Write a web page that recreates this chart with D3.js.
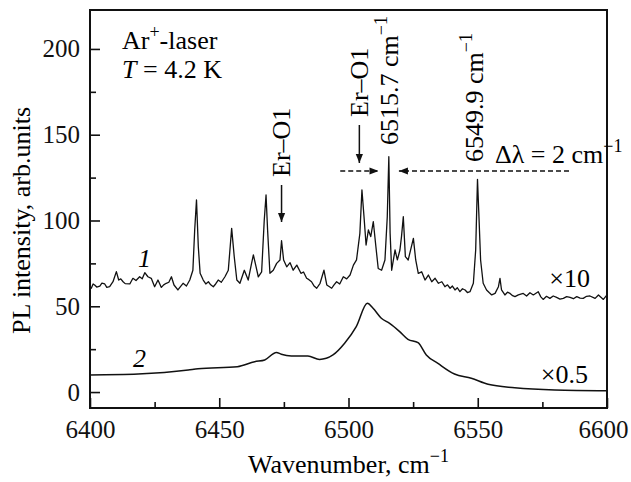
<!DOCTYPE html>
<html>
<head>
<meta charset="utf-8">
<script src="https://cdn.jsdelivr.net/npm/d3@7"></script>
<style>
  body { margin: 0; background: #fff; }
</style>
</head>
<body>
<div id="chart"></div>
<script>

// curve 1: PL spectrum x10 (wavenumber, intensity)
var wn1 = [6400.0,6400.5,6401.2,6401.8,6402.6,6403.8,6404.6,6405.7,6406.5,6407.6,6408.9,6410.2,6411.1,6411.9,6412.8,6413.6,6415.4,6416.6,6417.8,6419.2,6420.2,6421.2,6422.4,6423.7,
  6425.0,6426.3,6427.6,6428.5,6429.5,6430.5,6431.5,6432.5,6434.0,6435.0,6436.0,6437.3,6438.6,6439.8,6440.5,6441.2,6441.9,6442.6,6443.8,
  6444.8,6445.8,6446.7,6447.7,6448.6,6449.6,6450.8,6452.2,6453.5,6454.8,6455.8,6456.8,6458.0,6459.7,6461.2,6462.5,6463.2,6464.1,6465.1,6466.4,
  6467.4,6468.1,6468.7,6469.6,6470.9,6472.2,6473.5,6474.1,6474.9,6476.1,6477.4,6478.6,6480.0,6481.6,6482.6,6483.8,6484.7,6485.7,6486.6,
  6487.7,6489.0,6490.5,6491.6,6492.5,6493.5,6494.4,6495.4,6496.6,6498.0,6499.3,6500.6,6501.9,6503.1,6504.4,6505.2,6506.0,6506.8,6507.7,6508.6,
  6509.6,6510.6,6511.5,6512.8,6514.1,6515.0,6515.6,6516.1,6516.7,6518.0,6518.9,6519.9,6520.5,6521.2,6522.0,6523.1,
  6525.1,6526.0,6527.0,6528.3,6529.6,6530.9,6532.2,6533.5,6534.8,6536.1,6537.3,6538.3,6539.3,6540.2,6541.2,6542.1,6543.1,6544.1,6545.1,6546.0,6547.0,
  6548.3,6549.2,6549.9,6550.4,6551.1,6552.1,6553.4,6554.4,6555.4,6556.7,6558.0,6558.6,6559.2,6560.5,6561.5,6562.5,6563.5,6564.4,6565.7,
  6567.6,6568.9,6570.2,6571.5,6573.4,6574.4,6575.3,6576.6,6577.9,6579.2,6580.5,6581.8,6583.1,6584.4,6585.7,6587.0,6588.3,6589.6,6590.8,6592.1,6593.4,6595.4,6596.7,6598.6,6600.0];
var pl1 = [61.0,60.5,63.0,62.4,61.2,61.8,63.5,63.0,61.0,61.4,64.3,70.2,65.3,66.0,64.3,63.2,63.0,66.3,65.0,67.2,66.0,69.6,67.2,66.3,
  61.4,65.3,61.0,62.5,63.4,64.0,67.2,62.4,59.5,61.5,63.4,61.8,65.3,71.0,94.5,112.0,84.7,69.2,65.3,
  63.0,64.3,62.5,61.4,63.0,65.3,64.0,67.2,71.0,95.4,78.9,65.3,63.4,71.0,65.3,75.0,79.9,74.0,67.2,70.1,
  100.0,114.9,94.5,69.2,71.0,75.0,77.0,88.2,77.0,73.0,75.4,71.0,74.0,69.2,70.0,66.3,65.5,64.3,62.0,
  60.5,63.4,71.0,62.4,61.5,60.5,62.5,64.3,63.0,67.2,66.0,68.2,74.0,77.0,92.5,117.8,102.2,85.7,94.5,90.6,
  99.3,84.7,72.0,71.0,77.0,102.2,137.2,92.5,71.0,82.8,77.0,82.8,90.6,102.2,78.9,77.0,
  89.6,77.0,69.2,70.1,65.3,68.2,64.3,66.3,63.4,64.3,61.4,62.5,60.5,61.8,59.5,60.8,58.5,60.2,59.5,58.0,58.5,
  63.4,82.8,124.0,105.0,77.0,63.4,59.5,58.0,56.6,57.5,61.4,66.3,59.5,56.6,58.2,57.5,56.2,55.6,56.6,
  57.5,56.0,57.9,56.6,58.5,55.5,54.0,55.8,54.6,56.0,55.2,54.2,54.6,55.6,55.2,54.4,55.6,54.8,54.6,55.8,56.0,54.6,56.6,54.0,56.6];

// curve 2: PL spectrum x0.5
var wn2 = [6400.0,6418.6,6438.0,6441.8,6457.0,6463.7,6467.6,6472.1,6474.0,6477.9,6484.3,6488.8,6494.0,6498.5,
  6503.0,6507.3,6509.5,6512.7,6515.9,6519.8,6523.0,6526.9,6530.1,6534.6,6541.0,6547.5,6554.0,6564.3,6579.8,6600.0];
var pl2 = [10.0,10.5,12.8,13.6,14.8,17.7,18.7,23.1,22.0,21.0,21.0,19.0,21.6,28.4,
  38.1,51.7,48.8,43.0,40.0,35.2,30.7,28.8,21.6,16.7,10.5,8.0,4.5,2.5,1.2,0.8];

var yMajor = [0, 50, 100, 150, 200];
var yMinor = [25, 75, 125, 175];
var xMajor = [6400, 6450, 6500, 6550, 6600];
var xMinor = [6425, 6475, 6525, 6575];

var serif = "'Liberation Serif', 'Times New Roman', Times, serif";
var width = 631, height = 482;
var margin = { top: 10, right: 24, bottom: 74, left: 90 };
var plotW = width - margin.left - margin.right;
var plotH = height - margin.top - margin.bottom;

var x = d3.scaleLinear().domain([6400, 6600]).range([0, plotW]);
var y = d3.scaleLinear().domain([-9.3, 222.7]).range([plotH, 0]);

var svg = d3.select("#chart").append("svg")
  .attr("width", width)
  .attr("height", height)
  .attr("font-family", serif);

var g = svg.append("g")
  .attr("transform", "translate(" + margin.left + "," + margin.top + ")");

// axes, ticks pointing inward
var yAxis = g.append("g").call(d3.axisLeft(y).tickValues(yMajor).tickSize(-10).tickPadding(10));
var yAxisMinor = g.append("g").call(d3.axisLeft(y).tickValues(yMinor).tickSize(-6).tickFormat(""));
var xAxis = g.append("g").attr("transform", "translate(0," + plotH + ")")
  .call(d3.axisBottom(x).tickValues(xMajor).tickSize(-10).tickPadding(12).tickFormat(d3.format("d")));
var xAxisMinor = g.append("g").attr("transform", "translate(0," + plotH + ")")
  .call(d3.axisBottom(x).tickValues(xMinor).tickSize(-6).tickFormat(""));

[yAxis, yAxisMinor, xAxis, xAxisMinor].forEach(function(a) {
  a.attr("font-family", serif).attr("font-size", 25);
  a.select(".domain").remove();
  a.selectAll("line").attr("stroke", "#111").attr("stroke-width", 1.6);
  a.selectAll("text").attr("fill", "#111");
});
// keep the last x label inside the window
xAxis.selectAll(".tick text").filter(function(d) { return d === 6600; }).attr("dx", -4);

var line = d3.line()
  .x(function(d) { return x(d[0]); })
  .y(function(d) { return y(d[1]); });

var data1 = wn1.map(function(w, i) { return [w, pl1[i]]; });
var data2 = wn2.map(function(w, i) { return [w, pl2[i]]; });

g.append("path").datum(data1)
  .attr("fill", "none").attr("stroke", "#111").attr("stroke-width", 1.3)
  .attr("stroke-linejoin", "round")
  .attr("d", line);

g.append("path").datum(data2)
  .attr("fill", "none").attr("stroke", "#111").attr("stroke-width", 1.5)
  .attr("d", line.curve(d3.curveMonotoneX));

// frame
g.append("rect")
  .attr("width", plotW).attr("height", plotH)
  .attr("fill", "none").attr("stroke", "#111").attr("stroke-width", 2);

// axis titles
svg.append("text")
  .attr("transform", "translate(30," + (margin.top + y(100)) + ") rotate(-90)")
  .attr("text-anchor", "middle")
  .attr("font-size", 26)
  .text("PL intensity, arb.units");

var xl = svg.append("text")
  .attr("x", margin.left + plotW / 2)
  .attr("y", 473)
  .attr("text-anchor", "middle")
  .attr("font-size", 26);
xl.append("tspan").text("Wavenumber, cm");
xl.append("tspan").attr("dy", -11).attr("font-size", 18).text("\u22121");

// annotations (inside plot group)
var t1 = g.append("text").attr("x", 32).attr("y", 39).attr("font-size", 26);
t1.append("tspan").text("Ar");
t1.append("tspan").attr("dy", -11).attr("font-size", 18).text("+");
t1.append("tspan").attr("dy", 11).text("-laser");

var t2 = g.append("text").attr("x", 32).attr("y", 68).attr("font-size", 26);
t2.append("tspan").attr("font-style", "italic").text("T");
t2.append("tspan").text(" = 4.2 K");

g.append("text").attr("x", 48).attr("y", 257).attr("font-size", 26)
  .attr("font-style", "italic").text("1");
g.append("text").attr("x", 43).attr("y", 357).attr("font-size", 26)
  .attr("font-style", "italic").text("2");

g.append("text").attr("x", 500).attr("y", 277).attr("text-anchor", "end")
  .attr("font-size", 26).text("\u00d710");
g.append("text").attr("x", 498).attr("y", 373).attr("text-anchor", "end")
  .attr("font-size", 26).text("\u00d70.5");

// marker defs
var defs = svg.append("defs");
defs.append("marker").attr("id", "ah")
  .attr("viewBox", "0 0 10 10").attr("refX", 10).attr("refY", 5)
  .attr("markerWidth", 9).attr("markerHeight", 9)
  .attr("markerUnits", "userSpaceOnUse")
  .attr("orient", "auto")
  .append("path").attr("d", "M0,1 L10,5 L0,9 Z").attr("fill", "#111");

function vtext(xv, yBottom, parts) {
  var t = g.append("text")
    .attr("transform", "translate(" + x(xv) + "," + yBottom + ") rotate(-90)")
    .attr("font-size", 26);
  parts.forEach(function(p) {
    var s = t.append("tspan").text(p.t);
    if (p.sup) s.attr("dy", -11).attr("font-size", 18);
  });
  return t;
}

// first Er-O1 (near 6474)
vtext(6477.4, 167, [{ t: "Er\u2013O1" }]);
g.append("line")
  .attr("x1", x(6474.1)).attr("x2", x(6474.1))
  .attr("y1", 175).attr("y2", 212)
  .attr("stroke", "#111").attr("stroke-width", 1.5)
  .attr("marker-end", "url(#ah)");

// second Er-O1 (near 6505)
vtext(6507.5, 107, [{ t: "Er\u2013O1" }]);
g.append("line")
  .attr("x1", x(6504.2)).attr("x2", x(6504.2))
  .attr("y1", 115).attr("y2", 153)
  .attr("stroke", "#111").attr("stroke-width", 1.5)
  .attr("marker-end", "url(#ah)");

vtext(6519.0, 135, [{ t: "6515.7 cm" }, { t: "\u22121", sup: true }]);
vtext(6552.0, 152, [{ t: "6549.9 cm" }, { t: "\u22121", sup: true }]);

// dashed resolution arrows at the 6515.7 line
var yDash = 161;
g.append("line")
  .attr("x1", x(6496.8)).attr("x2", x(6511.6))
  .attr("y1", yDash).attr("y2", yDash)
  .attr("stroke", "#111").attr("stroke-width", 1.3)
  .attr("stroke-dasharray", "5,3")
  .attr("marker-end", "url(#ah)");
g.append("line")
  .attr("x1", x(6585.3)).attr("x2", x(6519.5))
  .attr("y1", yDash).attr("y2", yDash)
  .attr("stroke", "#111").attr("stroke-width", 1.3)
  .attr("stroke-dasharray", "5,3")
  .attr("marker-end", "url(#ah)");

var dl = g.append("text").attr("x", 405).attr("y", 153).attr("font-size", 26);
dl.append("tspan").text("\u0394\u03bb = 2 cm");
dl.append("tspan").attr("dy", -11).attr("font-size", 18).text("\u22121");

</script>
</body>
</html>
